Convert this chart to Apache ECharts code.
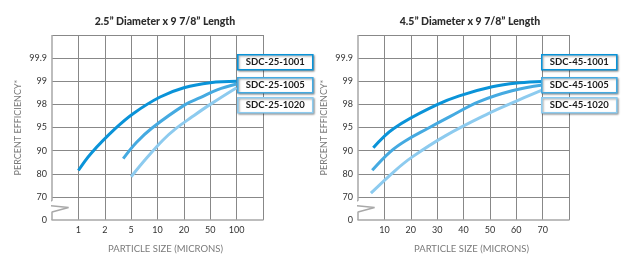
<!DOCTYPE html>
<html>
<head>
<meta charset="utf-8">
<script src="https://cdn.jsdelivr.net/npm/echarts@6/dist/echarts.min.js"></script>
<style>
  html, body { margin: 0; padding: 0; background: #fff; }
  #chart { width: 624px; height: 259px; }
</style>
</head>
<body>
<div id="chart"></div>
<script>
// efficiency axis is broken: each grid row is one of these steps
var yTicks = [0, 70, 80, 90, 95, 98, 99, 99.9, 100]
var yLabels = ['0', '70', '80', '90', '95', '98', '99', '99.9', '']
// left chart particle size ticks (one per grid column)
var xTicksLeft = [1, 2, 5, 10, 20, 50, 100]
var xMaxRight = 80

var titles = ['2.5\u201d Diameter x 9 7/8\u201d Length', '4.5\u201d Diameter x 9 7/8\u201d Length']
var namesLeft = ['SDC-25-1001', 'SDC-25-1005', 'SDC-25-1020']
var namesRight = ['SDC-45-1001', 'SDC-45-1005', 'SDC-45-1020']
var colors = ['#0a93d8', '#45aae1', '#8dcbef']

// [microns, % efficiency]
var left1001 = [[1, 81.4], [1.41, 89.0], [2.9, 94.8], [5.36, 96.86], [10.7, 98.32], [20, 98.72], [50, 98.94], [100, 99.0]]
var left1005 = [[3.8, 86.5], [5.74, 91.75], [8.6, 94.85], [20.9, 97.97], [35.3, 98.29], [59.9, 98.63], [100, 98.88]]
var left1020 = [[5, 78.7], [7.6, 87.0], [11.5, 92.25], [15.9, 94.65], [26.3, 96.35], [50, 98.0], [100, 98.72]]

var right1001 = [[5.8, 90.6], [13.7, 94.85], [30, 97.97], [38.4, 98.37], [50.9, 98.76], [61.1, 98.93], [70, 98.99]]
var right1005 = [[5.4, 81.5], [12.2, 89.5], [17.9, 92.1], [26.6, 94.85], [35, 96.44], [45.9, 98.12], [58.4, 98.59], [70, 98.84]]
var right1020 = [[4.9, 71.6], [14.1, 81.4], [20.6, 87.3], [33.1, 93.2], [49.4, 96.8], [59.6, 98.12], [70, 98.63]]

// efficiency -> row position on the broken axis
function effPos (v) {
  for (var i = 0; i < yTicks.length - 1; i++) {
    if (v <= yTicks[i + 1]) return i + (v - yTicks[i]) / (yTicks[i + 1] - yTicks[i])
  }
  return yTicks.length - 1
}
// microns -> column position on the left (log-ish) axis
function sizePos (v) {
  for (var i = 0; i < xTicksLeft.length - 1; i++) {
    if (v <= xTicksLeft[i + 1]) return 1 + i + Math.log(v / xTicksLeft[i]) / Math.log(xTicksLeft[i + 1] / xTicksLeft[i])
  }
  return xTicksLeft.length
}

var font = 'Lato, "Open Sans", sans-serif'
var gridColor = '#888'
var borderColor = '#a8a8a8'

function yAxis (gridIndex) {
  return {
    gridIndex: gridIndex, type: 'value', min: 0, max: 8, interval: 1,
    name: 'PERCENT EFFICIENCY*', nameLocation: 'middle', nameGap: 29,
    nameTextStyle: { fontFamily: font, fontSize: 9, color: '#7a7a7a' },
    axisLine: { show: false }, axisTick: { show: false },
    axisLabel: { margin: 5, fontFamily: font, fontSize: 9, color: '#333',
      formatter: function (v) { return yLabels[v] } },
    splitLine: { showMinLine: false, lineStyle: { color: gridColor, width: 1 } }
  }
}

function xAxis (gridIndex, max, interval, fmt) {
  return {
    gridIndex: gridIndex, type: 'value', min: 0, max: max, interval: interval,
    name: 'PARTICLE SIZE (MICRONS)', nameLocation: 'middle', nameGap: 24,
    nameTextStyle: { fontFamily: font, fontSize: 9.5, color: '#7a7a7a', padding: [0, 0, 0, 16] },
    axisLine: { show: true, lineStyle: { color: borderColor, width: 1.5 } },
    axisTick: { show: false },
    axisLabel: { margin: 6, fontFamily: font, fontSize: 9, color: '#333', formatter: fmt },
    splitLine: { showMinLine: false, lineStyle: { color: gridColor, width: 1 } }
  }
}

function curve (name, data, color, xi, mapX) {
  return {
    name: name, type: 'line', xAxisIndex: xi, yAxisIndex: xi,
    smooth: 0.4, showSymbol: false, silent: true,
    lineStyle: { color: color, width: 3, cap: 'butt' },
    data: data.map(function (d) { return [mapX(d[0]), effPos(d[1])] })
  }
}

// left border with the axis-break zigzag, in row/column units
function breakLine (xi, unit) {
  return {
    type: 'line', xAxisIndex: xi, yAxisIndex: xi, silent: true, clip: false,
    showSymbol: false, lineStyle: { color: borderColor, width: 1.5 },
    data: [[0, 8], [0, 0.85], [-0.29 * unit, 0.64], [0.63 * unit, 0.54], [0, 0.35], [0, 0]]
  }
}

function labelBoxes (x, names) {
  var tops = [54, 77, 97]
  return names.map(function (n, i) {
    return {
      type: 'group', left: x, top: tops[i], z: 100,
      children: [
        { type: 'rect', z: 100, shape: { x: 0, y: 0, width: 75, height: 15 },
          style: { fill: '#fff', stroke: colors[i], lineWidth: 1.6,
            shadowBlur: 2, shadowOffsetX: 1, shadowOffsetY: 1, shadowColor: 'rgba(0,0,0,0.35)' } },
        { type: 'text', z: 101, x: 37.5, y: 7.5,
          style: { text: n, fill: '#1a1a1a', font: 'bold 9.5px ' + font, align: 'center', verticalAlign: 'middle' } }
      ]
    }
  })
}

var myChart = echarts.init(document.getElementById('chart'))
var option = {
  animation: false,
  title: [
    { text: titles[0], left: 160, top: 11, textAlign: 'center',
      textStyle: { fontFamily: font, fontSize: 10.5, fontWeight: 900, color: '#2b2b2b' } },
    { text: titles[1], left: 465, top: 11, textAlign: 'center',
      textStyle: { fontFamily: font, fontSize: 10.5, fontWeight: 900, color: '#2b2b2b' } }
  ],
  grid: [
    { left: 52, top: 35, width: 211, height: 188 },
    { left: 358, top: 35, width: 211, height: 188 }
  ],
  xAxis: [
    xAxis(0, 8, 1, function (v) { return (v >= 1 && v <= 7) ? String(xTicksLeft[v - 1]) : '' }),
    xAxis(1, xMaxRight, 10, function (v) { return (v > 0 && v < xMaxRight) ? String(v) : '' })
  ],
  yAxis: [yAxis(0), yAxis(1)],
  series: [
    breakLine(0, 1),
    breakLine(1, 10),
    curve(namesLeft[2], left1020, colors[2], 0, sizePos),
    curve(namesLeft[1], left1005, colors[1], 0, sizePos),
    curve(namesLeft[0], left1001, colors[0], 0, sizePos),
    curve(namesRight[2], right1020, colors[2], 1, function (v) { return v }),
    curve(namesRight[1], right1005, colors[1], 1, function (v) { return v }),
    curve(namesRight[0], right1001, colors[0], 1, function (v) { return v })
  ],
  graphic: labelBoxes(237, namesLeft).concat(labelBoxes(541, namesRight))
}
myChart.setOption(option, true)
</script>
</body>
</html>
